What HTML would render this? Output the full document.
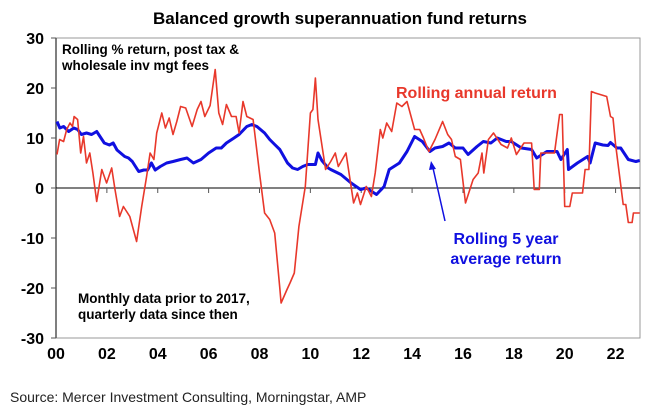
<!DOCTYPE html>
<html><head><meta charset="utf-8"><style>
body{margin:0;background:#fff;}
svg{display:block;font-family:"Liberation Sans",Arial,sans-serif;}
</style></head><body>
<svg id="chart" width="654" height="420">
<text x="340" y="24" text-anchor="middle" font-size="17" font-weight="bold">Balanced growth superannuation fund returns</text>
<g id="axes"></g>
<g id="series"></g>
<text x="62" y="54" font-size="13.5" font-weight="bold">Rolling % return, post tax &amp;</text>
<text x="62" y="70" font-size="13.5" font-weight="bold">wholesale inv mgt fees</text>
<text x="78" y="303" font-size="13.5" font-weight="bold">Monthly data prior to 2017,</text>
<text x="78" y="319" font-size="13.5" font-weight="bold">quarterly data since then</text>
<text x="396" y="98" font-size="16" font-weight="bold" fill="#e8382b">Rolling annual return</text>
<text x="506" y="244" text-anchor="middle" font-size="16" font-weight="bold" fill="#1010e0">Rolling 5 year</text>
<text x="506" y="264" text-anchor="middle" font-size="16" font-weight="bold" fill="#1010e0">average return</text>
<line x1="445" y1="221" x2="433" y2="168" stroke="#1010e0" stroke-width="1.5"/>
<polygon points="431,161 429,170 436,169" fill="#1010e0"/>
<text x="10" y="402" font-size="14" fill="#222">Source: Mercer Investment Consulting, Morningstar, AMP</text>
</svg>
<script>
const annualYears=[0.04,0.14,0.3,0.42,0.55,0.65,0.71,0.85,0.97,1.08,1.2,1.33,1.45,1.6,1.8,1.99,2.19,2.32,2.5,2.65,2.9,3.17,3.37,3.56,3.7,3.85,3.96,4.16,4.3,4.45,4.6,4.75,4.9,5.1,5.35,5.55,5.7,5.85,6.06,6.26,6.4,6.55,6.7,6.9,7.08,7.2,7.35,7.5,7.75,8.0,8.2,8.4,8.6,8.8,8.85,9.08,9.2,9.37,9.55,9.8,10.0,10.1,10.2,10.3,10.5,10.6,10.8,10.98,11.1,11.4,11.7,11.85,11.97,12.2,12.4,12.55,12.75,12.85,13.0,13.2,13.4,13.6,13.8,14.1,14.3,14.45,14.66,14.9,15.2,15.4,15.55,15.7,15.9,16.1,16.4,16.6,16.75,16.82,17.0,17.2,17.5,17.75,17.9,18.1,18.4,18.7,18.8,19.0,19.06,19.6,19.8,19.9,20.0,20.2,20.3,20.7,20.8,20.95,21.05,21.2,21.65,21.8,21.9,22.0,22.3,22.4,22.5,22.65,22.7,22.95];
const annualValues=[6.7,9.7,9.3,11.7,13,12.3,14.3,13.7,7,10.3,5,7,3,-2.7,3.7,1,4,-0.3,-5.7,-3.7,-5.7,-10.7,-3.7,2.3,7,5.7,11,15,12,14,10.7,13.3,16.3,16,12.3,15.7,17.3,14.3,16.5,23.7,15,12.7,16.7,14.3,14.3,11,17.3,14.3,13.7,3,-5,-6.3,-9,-20,-23,-20.3,-19,-17,-7.7,0.3,15,15.7,22,13.7,7,3.7,5.3,7,4.3,7,-3,-1,-3.3,0.3,-1.7,3,11.7,10,13,11.3,17,16.3,17.3,11.7,11.7,10,7.3,9.7,13.3,10.7,9.7,6.3,5.7,-3,1.7,3,7,3,9.7,11,8.7,8,10,6.7,9,9,-0.3,-0.3,7,7,14.7,14.7,-3.7,-3.7,-1,-1,3.7,3.7,19.3,19,18.3,14.3,14,8.7,-3.3,-3.3,-6.9,-6.9,-5,-5];
const avgYears=[0.04,0.15,0.3,0.5,0.7,0.85,1.0,1.2,1.4,1.6,1.9,2.1,2.25,2.4,2.7,2.85,3.0,3.25,3.45,3.6,3.75,3.9,4.1,4.35,4.6,4.9,5.15,5.4,5.7,6.0,6.3,6.5,6.7,7.0,7.2,7.5,7.7,7.9,8.2,8.4,8.6,8.8,9.1,9.3,9.5,9.7,9.9,10.2,10.3,10.45,10.7,10.8,11.2,11.6,11.97,12.2,12.6,12.9,13.1,13.5,13.8,14.1,14.4,14.7,14.9,15.2,15.45,15.7,16.0,16.2,16.55,16.8,17.1,17.35,17.7,17.9,18.3,18.7,18.9,19.3,19.7,19.85,20.1,20.15,20.5,20.9,21.0,21.2,21.5,21.7,21.8,22.05,22.2,22.5,22.8,22.95];
const avgValues=[13.3,12,12.3,11.3,12,11.7,10.7,11,10.7,11.3,9,8.6,9,7.6,6.3,6,5.3,3.3,3.6,3.6,5,3.6,4.3,5,5.3,5.7,6,5,5.7,7,8,8,9,10,10.7,12.3,12.7,12.3,11,9.7,8.7,7.7,5,4,3.7,4.3,4.7,4.7,7,5.5,4,3.7,2.7,1,-0.3,0,-1.3,0.3,3.7,5,7.3,10.3,9.3,7.3,8,8.3,9,8,8,6.7,8.3,9.3,9,10,9.3,9.3,8,7.7,6,7.3,7.3,5.7,7.7,3.7,5,6.3,5,9,8.6,8.5,9.1,8,8,5.7,5.3,5.5];
const yTicks=[30,20,10,0,-10,-20,-30];
const xTickLabels=["00","02","04","06","08","10","12","14","16","18","20","22"];
const xTickYears=[0,2,4,6,8,10,12,14,16,18,20,22];

const NS="http://www.w3.org/2000/svg";
const L=56,R=640,T=38,B=338,yMin=-30,yMax=30,xMin=0,xMax=22.96;
const xs=v=>L+(v-xMin)/(xMax-xMin)*(R-L);
const ys=v=>B-(v-yMin)/(yMax-yMin)*(B-T);
function mk(tag,attrs,parent){const e=document.createElementNS(NS,tag);for(const k in attrs)e.setAttribute(k,attrs[k]);parent.appendChild(e);return e;}
const ax=document.getElementById('axes'),se=document.getElementById('series');
const frame=mk('rect',{x:L,y:T,width:R-L,height:B-T,fill:'none',stroke:'#999','stroke-width':1},ax);


const yl=mk('line',{x1:L,y1:T,x2:L,y2:B,stroke:'#555','stroke-width':1.5},ax);


yTicks.forEach(t=>{
  const tk=mk('line',{x1:L-5,y1:ys(t),x2:L,y2:ys(t),stroke:'#555'},ax);
  
  
  const tx=mk('text',{x:44,y:ys(t)+6,'text-anchor':'end','font-size':16,'font-weight':'bold'},ax);
  tx.textContent=t;
  
  
});
const zl=mk('line',{x1:L,y1:ys(0),x2:R,y2:ys(0),stroke:'#000','stroke-width':1},ax);


xTickYears.forEach((y,i)=>{
  const tk=mk('line',{x1:xs(y),y1:ys(0),x2:xs(y),y2:ys(0)+5,stroke:'#555'},ax);
  
  
  const tx=mk('text',{x:xs(y),y:359,'text-anchor':'middle','font-size':16,'font-weight':'bold'},ax);
  tx.textContent=xTickLabels[i];
  
  
});
function line(xa,va,color,w){return xa.map((x,i)=>(i?'L':'M')+xs(x).toFixed(1)+','+ys(va[i]).toFixed(1)).join(' ');}
const avg=mk('path',{d:line(avgYears,avgValues),fill:'none',stroke:'#1010e0','stroke-width':3,'stroke-linejoin':'round'},se);


const ann=mk('path',{d:line(annualYears,annualValues),fill:'none',stroke:'#e8382b','stroke-width':1.6,'stroke-linejoin':'round'},se);


</script>
</body></html>
